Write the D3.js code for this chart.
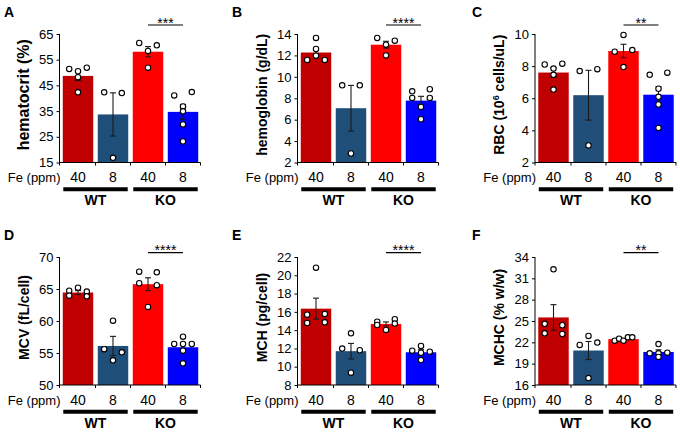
<!DOCTYPE html>
<html>
<head>
<meta charset="utf-8">
<script src="https://cdn.jsdelivr.net/npm/d3@7/dist/d3.min.js"></script>
<style>
  html, body { margin: 0; padding: 0; background: #fff; }
  svg { display: block; font-family: "Liberation Sans", Arial, Helvetica, sans-serif; }
</style>
</head>
<body>
<svg id="chart" width="680" height="432"></svg>
<script>
// ---------------- DATA ----------------
const categories = ["WT 40", "WT 8", "KO 40", "KO 8"];
const feLevels = ["40", "8", "40", "8"];
const genotypes = ["WT", "KO"];
const barColors = ["#C00000", "#1F4E79", "#FF0000", "#0000FF"];

const panelLetters = ["A", "B", "C", "D", "E", "F"];
const significance = ["***", "****", "**", "****", "****", "**"];

// A: hematocrit
const hematocritTicks = [15, 25, 35, 45, 55, 65];
const hematocritMeans = [48.7, 33.7, 58.1, 34.7];
const hematocritSEM = [1.8, 8.4, 2.0, 2.9];
const hematocritPoints = [
  [51.4, 50.5, 51.9, 48.2, 42.3],
  [42.3, 42.0, 16.8],
  [61.5, 60.6, 58.4, 51.9],
  [41.1, 42.4, 36.8, 34.9, 29.8, 23.2]
];

// B: hemoglobin
const hemoglobinTicks = [2, 4, 6, 8, 10, 12, 14];
const hemoglobinMeans = [12.27, 7.07, 13.0, 7.78];
const hemoglobinSEM = [0.38, 2.13, 0.32, 0.4];
const hemoglobinPoints = [
  [11.58, 12.6, 13.63, 11.98, 11.58],
  [9.21, 9.21, 2.84],
  [13.63, 13.0, 13.38, 12.0],
  [8.65, 8.84, 8.03, 8.03, 7.19, 6.04]
];

// C: RBC
const rbcTicks = [2, 4, 6, 8, 10];
const rbcMeans = [7.6, 6.19, 8.94, 6.22];
const rbcSEM = [0.3, 1.55, 0.42, 0.5];
const rbcPoints = [
  [8.1, 7.85, 8.15, 7.46, 6.54],
  [7.69, 7.81, 3.06],
  [9.94, 8.9, 9.0, 7.94],
  [7.46, 7.59, 6.59, 6.09, 5.61, 4.15]
];

// D: MCV
const mcvTicks = [50, 55, 60, 65, 70];
const mcvMeans = [64.45, 56.1, 65.75, 55.9];
const mcvSEM = [0.3, 1.5, 1.0, 0.6];
const mcvPoints = [
  [64.74, 65.2, 64.6, 63.96, 63.85],
  [60.05, 55.6, 55.1, 53.85],
  [67.7, 67.6, 65.9, 65.6, 62.2],
  [57.55, 56.41, 56.41, 56.41, 55.36, 53.39]
];

// E: MCH
const mchTicks = [8, 10, 12, 14, 16, 18, 20, 22];
const mchMeans = [16.35, 11.7, 14.68, 11.58];
const mchSEM = [1.15, 0.85, 0.22, 0.28];
const mchPoints = [
  [20.83, 15.69, 15.77, 14.78, 14.86],
  [13.65, 11.98, 11.8, 9.35],
  [14.92, 15.2, 14.56, 14.72, 14.02],
  [11.75, 12.27, 11.53, 11.64, 10.73]
];

// F: MCHC
const mchcTicks = [16, 19, 22, 25, 28, 31, 34];
const mchcMeans = [25.5, 20.85, 22.45, 20.65];
const mchcSEM = [1.8, 1.27, 0.1, 0.3];
const mchcPoints = [
  [32.27, 24.6, 24.4, 23.27, 23.17],
  [22.9, 21.63, 21.97, 16.98],
  [22.23, 22.51, 22.23, 22.71, 22.71],
  [21.76, 20.46, 20.46, 20.54, 19.95]
];

const yLabels = ["hematocrit (%)", "hemoglobin (g/dL)", "RBC", "MCV (fL/cell)", "MCH (pg/cell)", "MCHC (% w/w)"];

const panels = [
  { ticks: hematocritTicks, means: hematocritMeans, sem: hematocritSEM, points: hematocritPoints },
  { ticks: hemoglobinTicks, means: hemoglobinMeans, sem: hemoglobinSEM, points: hemoglobinPoints },
  { ticks: rbcTicks, means: rbcMeans, sem: rbcSEM, points: rbcPoints },
  { ticks: mcvTicks, means: mcvMeans, sem: mcvSEM, points: mcvPoints },
  { ticks: mchTicks, means: mchMeans, sem: mchSEM, points: mchPoints },
  { ticks: mchcTicks, means: mchcMeans, sem: mchcSEM, points: mchcPoints }
];

// ---------------- LAYOUT ----------------
const colAxisX = [59.5, 297.5, 535];
const colLetterX = [4, 232, 472];
const rowTop = [34, 257];
const rowBottom = [162.5, 385];
const rowSigY = [25, 252.7];
const rowLetterY = [16.7, 239.5];
const dotStep = 8.8;
const dotR = 2.7;

const svg = d3.select("#chart");

function dotOffsets(vals, y) {
  const idx = vals.map((v, i) => i).sort((a, b) => y(vals[a]) - y(vals[b]));
  const rows = [];
  let cur = null;
  idx.forEach(i => {
    const py = y(vals[i]);
    if (cur && py - cur.top < 4) cur.items.push(i);
    else { cur = { top: py, items: [i] }; rows.push(cur); }
  });
  const off = new Array(vals.length).fill(0);
  rows.forEach(r => {
    const items = r.items.slice().sort((a, b) => a - b);
    const n = items.length;
    items.forEach((i, k) => { off[i] = n === 1 ? 0 : -dotStep + 2 * dotStep * k / (n - 1); });
  });
  return off;
}

panels.forEach((p, pi) => {
  const col = pi % 3, row = Math.floor(pi / 3);
  const ox = colAxisX[col];
  const top = rowTop[row], bottom = rowBottom[row];
  const g = svg.append("g");

  const y = d3.scaleLinear().domain(d3.extent(p.ticks)).range([bottom, top]);
  const x = d3.scaleBand().domain(categories).range([ox + 1, ox + 141]).paddingInner(0.13).paddingOuter(0.065);

  // bars
  g.selectAll("rect.bar").data(p.means).join("rect")
    .attr("class", "bar")
    .attr("x", (d, i) => x(categories[i]))
    .attr("width", x.bandwidth())
    .attr("y", d => y(d))
    .attr("height", d => bottom - y(d))
    .attr("fill", (d, i) => barColors[i]);

  // y axis
  const yAxis = d3.axisLeft(y).tickValues(p.ticks).tickSize(3).tickPadding(3).tickFormat(d3.format("d"));
  const ya = g.append("g").attr("transform", `translate(${ox},0)`).call(yAxis);
  ya.select(".domain").attr("stroke", "#000").attr("stroke-width", 1).attr("d", `M0,${bottom}V${top}`);
  ya.selectAll(".tick line").attr("stroke", "#000");
  ya.selectAll(".tick text").attr("font-size", 13).attr("fill", "#000").attr("font-family", "Liberation Sans, Arial, sans-serif");

  // x axis
  const xa = g.append("g").attr("transform", `translate(0,${bottom})`);
  xa.append("line").attr("x1", ox).attr("x2", ox + 141).attr("y1", 0).attr("y2", 0).attr("stroke", "#000");
  const step = x.step();
  const bounds = d3.range(5).map(i => x(categories[0]) - (step - x.bandwidth()) / 2 + i * step);
  bounds[0] = ox;
  xa.selectAll("line.tk").data(bounds).join("line").attr("class", "tk")
    .attr("x1", d => d).attr("x2", d => d).attr("y1", 0).attr("y2", 3).attr("stroke", "#000");

  // error bars
  const eb = g.append("g").attr("stroke", "#1a1a1a").attr("stroke-width", 1.1);
  p.means.forEach((m, i) => {
    const cx = x(categories[i]) + x.bandwidth() / 2;
    const y1 = y(m + p.sem[i]), y2 = y(m - p.sem[i]);
    eb.append("line").attr("x1", cx).attr("x2", cx).attr("y1", y1).attr("y2", y2);
    eb.append("line").attr("x1", cx - 3).attr("x2", cx + 3).attr("y1", y1).attr("y2", y1);
    eb.append("line").attr("x1", cx - 3).attr("x2", cx + 3).attr("y1", y2).attr("y2", y2);
  });

  // dots
  p.points.forEach((vals, i) => {
    const cx = x(categories[i]) + x.bandwidth() / 2;
    const off = dotOffsets(vals, y);
    g.selectAll(null).data(vals).join("circle")
      .attr("cx", (d, k) => cx + off[k])
      .attr("cy", d => y(d))
      .attr("r", dotR)
      .attr("fill", "#fff")
      .attr("stroke", "#000")
      .attr("stroke-width", 1.1);
  });

  // category labels
  const labY = bottom + 19.5;
  g.append("text").attr("x", ox + 1).attr("y", labY).attr("text-anchor", "end")
    .attr("font-size", 13).text("Fe (ppm)");
  g.selectAll("text.fe").data(feLevels).join("text").attr("class", "fe")
    .attr("x", (d, i) => x(categories[i]) + x.bandwidth() / 2)
    .attr("y", labY).attr("text-anchor", "middle").attr("font-size", 14).text(d => d);

  // genotype bars
  genotypes.forEach((gt, gi) => {
    const x1 = x(categories[gi * 2]) + 0.5;
    const x2 = x(categories[gi * 2 + 1]) + x.bandwidth() - 0.5;
    g.append("line").attr("x1", x1).attr("x2", x2).attr("y1", bottom + 26.8).attr("y2", bottom + 26.8)
      .attr("stroke", "#000").attr("stroke-width", 4);
    g.append("text").attr("x", (x1 + x2) / 2).attr("y", bottom + 42.5).attr("text-anchor", "middle")
      .attr("font-size", 14).attr("font-weight", "bold").text(gt);
  });

  // significance
  const sx1 = x(categories[2]) + x.bandwidth() / 2;
  const sx2 = x(categories[3]) + x.bandwidth() / 2;
  const sy = rowSigY[row];
  g.append("line").attr("x1", sx1).attr("x2", sx2).attr("y1", sy).attr("y2", sy).attr("stroke", "#000").attr("stroke-width", 1.2);
  g.append("text").attr("x", (sx1 + sx2) / 2).attr("y", sy + 2.5).attr("text-anchor", "middle")
    .attr("font-size", 14).text(significance[pi]);

  // y label
  const lab = g.append("text")
    .attr("transform", `translate(${ox - 31},${(top + bottom) / 2 - 3.5}) rotate(-90)`)
    .attr("text-anchor", "middle")
    .attr("font-size", pi === 0 ? 16 : 14).attr("font-weight", "bold");
  if (yLabels[pi] === "RBC") {
    lab.append("tspan").text("RBC (10");
    lab.append("tspan").attr("font-size", 9).attr("dy", -5).text("6");
    lab.append("tspan").attr("dy", 5).text(" cells/uL)");
  } else {
    lab.text(yLabels[pi]);
  }

  // panel letter
  g.append("text").attr("x", colLetterX[col]).attr("y", rowLetterY[row])
    .attr("font-size", 14).attr("font-weight", "bold").text(panelLetters[pi]);
});
</script>
</body>
</html>
